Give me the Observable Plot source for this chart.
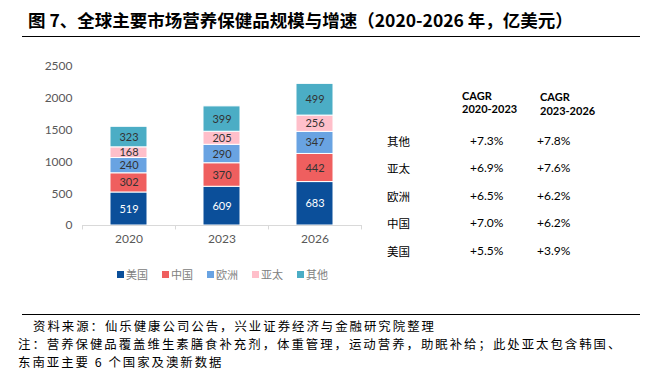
<!DOCTYPE html>
<html><head><meta charset="utf-8">
<script src="https://cdn.jsdelivr.net/npm/d3@7"></script>
<script src="https://cdn.jsdelivr.net/npm/@observablehq/plot@0.6"></script>
<style>
body{margin:0;background:#fff;}
#wrap{position:relative;width:662px;height:378px;background:#fff;overflow:hidden;font-family:"Noto Sans CJK SC",sans-serif;}
.abs{position:absolute;white-space:nowrap;}
#title{left:28px;top:8px;font-size:17.5px;font-weight:bold;color:#000;line-height:24px;}
.hline{position:absolute;left:22px;width:618px;height:0;border-top:1.5px solid #000;}
.foot{font-size:12.4px;color:#000;line-height:16px;letter-spacing:2px;}
#chart{position:absolute;left:0;top:40px;}
.leg{font-family:"Noto Sans CJK SC";font-size:11px;color:#808080;line-height:12px;}
.sw{position:absolute;width:7px;height:7px;}
.cagr{font-family:Lato,"Noto Sans CJK SC";font-size:12px;color:#000;line-height:14px;}
.hdr{font-weight:bold;font-size:11px;line-height:12px;}
</style></head>
<body><div id="wrap">
<div id="title" class="abs">图 7、全球主要市场营养保健品规模与增速（2020-2026 年，亿美元）</div>
<div class="hline" style="top:36px"></div>
<div class="hline" style="top:314px"></div>
<div class="abs foot" style="left:33px;top:318px">资料来源：仙乐健康公司公告，兴业证券经济与金融研究院整理</div>
<div class="abs foot" style="left:18px;top:336px">注：营养保健品覆盖维生素膳食补充剂，体重管理，运动营养，助眠补给；此处亚太包含韩国、</div>
<div class="abs foot" style="left:18px;top:354px">东南亚主要 6 个国家及澳新数据</div>
<div id="chart"></div>
</div>
<script>
const years = ["2020", "2023", "2026"];
const regions = ["美国", "中国", "欧洲", "亚太", "其他"];
const usValues = [519, 609, 683];
const chinaValues = [302, 370, 442];
const europeValues = [240, 290, 347];
const apacValues = [168, 205, 256];
const otherValues = [323, 399, 499];
const regionColors = ["#0B4F9A", "#EF5F5F", "#69A3E2", "#FFBFCA", "#4BADC5"];
const yTicks = [0, 500, 1000, 1500, 2000, 2500];

const cagrRegions = ["其他", "亚太", "欧洲", "中国", "美国"];
const cagr2020_2023 = ["+7.3%", "+6.9%", "+6.5%", "+7.0%", "+5.5%"];
const cagr2023_2026 = ["+7.8%", "+7.6%", "+6.2%", "+6.2%", "+3.9%"];
const cagrHeaders = [["CAGR", "2020-2023"], ["CAGR", "2023-2026"]];

const series = [usValues, chinaValues, europeValues, apacValues, otherValues];
const data = [];
years.forEach((y, i) => regions.forEach((r, j) => data.push({year: y, region: r, value: series[j][i]})));

const chart = Plot.plot({
  width: 662, height: 250,
  marginLeft: 82, marginRight: 301, marginTop: 26, marginBottom: 65,
  style: {fontFamily: "Lato, 'Noto Sans CJK SC'", fontSize: "12px", color: "#595959", background: "transparent"},
  x: {domain: years, paddingInner: 0.6, paddingOuter: 0.3, label: null},
  y: {domain: [0, 2500], label: null},
  color: {domain: regions, range: regionColors},
  marks: [
    Plot.axisY({ticks: yTicks, tickFormat: d3.format("d"), tickSize: 0, tickPadding: 10, label: null, fontSize: 12}),
    Plot.axisX({tickSize: 0, tickPadding: 9, label: null, fontSize: 12}),
    Plot.barY(data, {x: "year", y: "value", fill: "region", stroke: "white", strokeWidth: 1}),
    Plot.text(data, Plot.stackY({x: "year", y: "value", text: "value", fill: d => d.region === "美国" ? "#ffffff" : "#333333", fontSize: 11})),
    Plot.ruleY([0], {stroke: "#d9d9d9", strokeWidth: 1.2}),
    Plot.ruleX(years, {x: d => d, dx: -46.5, y1: 0, y2: -70, stroke: "#d9d9d9"}),
    Plot.ruleX(years.slice(-1), {x: d => d, dx: 46.5, y1: 0, y2: -70, stroke: "#d9d9d9"})
  ]
});
document.getElementById("chart").appendChild(chart);

const wrap = d3.select("#wrap");
// legend
const legX = [117, 162, 207, 252, 297];
regions.forEach((r, i) => {
  wrap.append("div").attr("class", "sw").style("left", legX[i] + "px").style("top", "271px").style("background", regionColors[i]);
  wrap.append("div").attr("class", "abs leg").style("left", (legX[i] + 9) + "px").style("top", "268px").text(r);
});
// CAGR table
const rowY = [141, 168, 196, 223, 251];
const hdrX = [462, 540];
const hdrY = [[96, 109], [97, 111]];
cagrHeaders.forEach((h, c) => h.forEach((t, k) => {
  wrap.append("div").attr("class", "abs cagr hdr").style("left", hdrX[c] + "px").style("top", (hdrY[c][k] - 6) + "px").text(t);
}));
cagrRegions.forEach((r, i) => {
  wrap.append("div").attr("class", "abs cagr").style("left", "387px").style("top", (rowY[i] - 6) + "px").style("font-size", "11.5px").text(r);
  wrap.append("div").attr("class", "abs cagr").style("left", "470px").style("top", (rowY[i] - 7) + "px").text(cagr2020_2023[i]);
  wrap.append("div").attr("class", "abs cagr").style("left", "537px").style("top", (rowY[i] - 7) + "px").text(cagr2023_2026[i]);
});
</script>
</body></html>
